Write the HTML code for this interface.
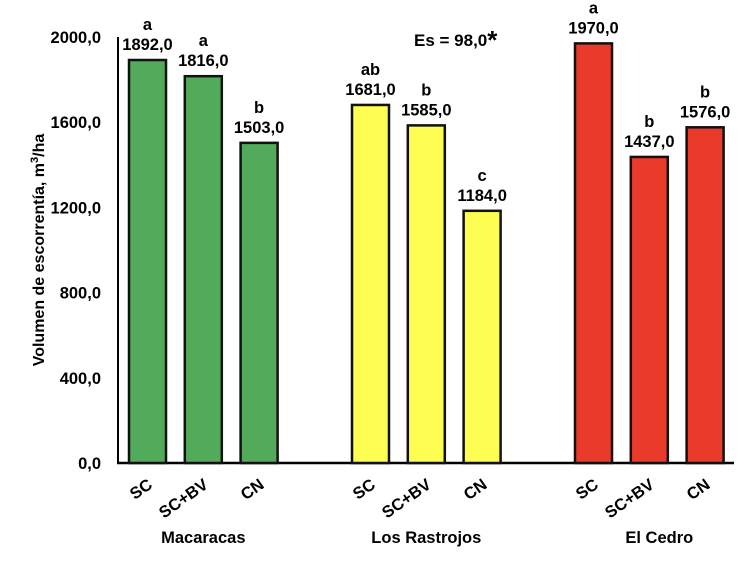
<!DOCTYPE html>
<html><head><meta charset="utf-8"><style>
body{margin:0;background:#fff;}
svg text{font-family:"Liberation Sans",Arial,sans-serif;font-weight:bold;fill:#000;}
</style></head><body>
<svg id="chart" width="750" height="569" viewBox="0 0 750 569" xmlns="http://www.w3.org/2000/svg">
<g id="axes"></g><g id="bars"></g><g id="labels"></g>
<text transform="translate(44,250) rotate(-90)" text-anchor="middle" font-size="16">Volumen de escorrentía, m<tspan font-size="11" dy="-6">3</tspan><tspan dy="6">/ha</tspan></text>
<text x="414" y="46" font-size="17">Es = 98,0<tspan font-size="26" dy="3">*</tspan></text>
</svg>
<script>
const groups = ["Macaracas","Los Rastrojos","El Cedro"];
const treatments = ["SC","SC+BV","CN"];
const values = [[1892.0,1816.0,1503.0],[1681.0,1585.0,1184.0],[1970.0,1437.0,1576.0]];
const letters = [["a","a","b"],["ab","b","c"],["a","b","b"]];
const yTicks = [0,400,800,1200,1600,2000];
const colors = ["#52ab5b","#fdfd52","#e93a2a"];

const NS="http://www.w3.org/2000/svg";
const y0=463, yTop=37, yMax=2000;
function yScale(v){return y0-(v/yMax)*(y0-yTop);}
function xScale(g,i){return 129+g*223+i*55.8;}
const barW=37;
function mk(tag,attrs,parent,txt){const e=document.createElementNS(NS,tag);for(const k in attrs)e.setAttribute(k,attrs[k]);if(txt!==undefined)e.textContent=txt;document.getElementById(parent).appendChild(e);return e;}

let ax=mk('line',{x1:118,y1:y0,x2:118,y2:yTop,stroke:'#000','stroke-width':2},'axes');


let bx=mk('line',{x1:117,y1:y0,x2:734,y2:y0,stroke:'#000','stroke-width':2.5},'axes');


yTicks.forEach(t=>{
  const e=mk('text',{x:101,y:yScale(t)+6,'text-anchor':'end','font-size':16.5},'axes',t.toFixed(1).replace('.',','));
  
  
});
groups.forEach((g,gi)=>{
  treatments.forEach((t,i)=>{
    const v=values[gi][i], x=xScale(gi,i), y=yScale(v);
    const r=mk('rect',{x:x,y:y,width:barW,height:y0-y,fill:colors[gi],stroke:'#111','stroke-width':2.5},'bars');
    
    
    const vl=mk('text',{x:x+barW/2,y:y-10,'text-anchor':'middle','font-size':16.5},'labels',v.toFixed(1).replace('.',','));
    
    
    const ll=mk('text',{x:x+barW/2,y:y-30,'text-anchor':'middle','font-size':16.5},'labels',letters[gi][i]);
    
    
    const cx=x+barW/2+6, cy=487;
    const cl=mk('text',{x:cx,y:cy,'text-anchor':'end','font-size':16.5,transform:'rotate(-35 '+cx+' '+cy+')'},'labels',t);
    
    
  });
  const gx=xScale(gi,1)+barW/2+(gi==2?10:0);
  const gl=mk('text',{x:gx,y:543,'text-anchor':'middle','font-size':16.5},'labels',g);
  
  
});
</script>
</body></html>
